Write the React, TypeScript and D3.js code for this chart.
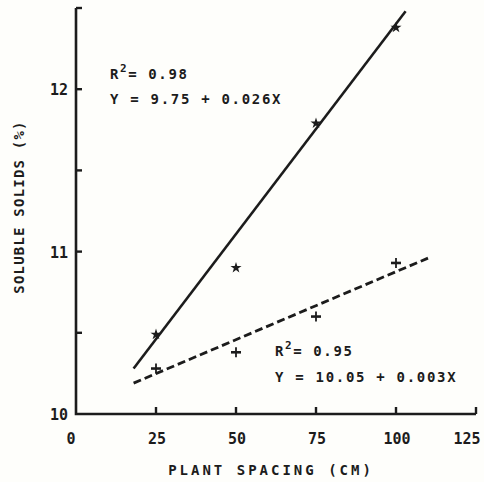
import React from "react";
import * as d3 from "d3";

const xTicks = [0, 25, 50, 75, 100, 125];
const xTickMarks = [25, 50, 75, 100, 125];
const yTickMarks = [10.5, 11, 11.5, 12, 12.5];
const yLabels = [10, 11, 12];
const spacing = [25, 50, 75, 100];
const solidsStar = [10.49, 10.9, 11.79, 12.38];
const solidsPlus = [10.28, 10.38, 10.6, 10.93];
const fitStarX = [18, 103];
const fitStarY = [10.28, 12.48];
const fitPlusX = [18, 110];
const fitPlusY = [10.19, 10.96];
const eq1 = ["0.98", "Y = 9.75 + 0.026X"];
const eq2 = ["0.95", "Y = 10.05 + 0.003X"];
const xTitle = "PLANT SPACING (CM)";
const yTitle = "SOLUBLE SOLIDS (%)";

const W = 484;
const H = 482;
const INK = "#1c1c1c";
const FONT = "'DejaVu Sans Mono', monospace";

export default function App() {
  const x = d3.scaleLinear().domain([0, 125]).range([76, 476]);
  const y = d3.scaleLinear().domain([10, 12.5]).range([414, 8]);
  const line = d3
    .line<[number, number]>()
    .x((d) => x(d[0]))
    .y((d) => y(d[1]));
  const fit1: [number, number][] = fitStarX.map((v, i) => [v, fitStarY[i]]);
  const fit2: [number, number][] = fitPlusX.map((v, i) => [v, fitPlusY[i]]);
  const star = d3.symbol().type(d3.symbolStar).size(38)() as string;

  const textStyle: React.CSSProperties = {
    fontFamily: FONT,
    fontWeight: 700,
    fill: INK,
  };

  const labelX = (t: number) => (t === 0 ? x(t) - 5 : Math.min(x(t) + 1, 467));

  return (
    <div style={{ position: "fixed", left: 0, top: 0, width: W, height: H, background: "#fefefb" }}>
      <svg width={W} height={H} style={{ display: "block" }}>
        <rect width={W} height={H} fill="#fefefb" />
        {/* axes */}
        <path
          d={`M${x(0)},${y(12.5)} V${y(10)} H${x(125)}`}
          fill="none"
          stroke={INK}
          strokeWidth={2.6}
        />
        {yTickMarks.map((t) => (
          <line key={"yt" + t} x1={x(0)} x2={x(0) + 6} y1={y(t)} y2={y(t)} stroke={INK} strokeWidth={2.4} />
        ))}
        {xTickMarks.map((t) => (
          <line key={"xt" + t} x1={x(t)} x2={x(t)} y1={y(10)} y2={y(10) - 7} stroke={INK} strokeWidth={2.4} />
        ))}
        {xTicks.map((t) => (
          <text key={"xl" + t} x={labelX(t)} y={444} textAnchor="middle" fontSize={15} style={textStyle}>
            {t}
          </text>
        ))}
        {yLabels.map((t) => (
          <text key={"yl" + t} x={68} y={y(t) + 6} textAnchor="end" fontSize={15} style={textStyle}>
            {t}
          </text>
        ))}
        <text
          x={(x(0) + x(125)) / 2 - 5}
          y={475}
          textAnchor="middle"
          fontSize={14}
          letterSpacing={3}
          style={textStyle}
        >
          {xTitle}
        </text>
        <text
          transform={`translate(24,207) rotate(-90)`}
          textAnchor="middle"
          fontSize={14}
          letterSpacing={1.2}
          style={textStyle}
        >
          {yTitle}
        </text>

        {/* fitted lines */}
        <path d={line(fit1) as string} fill="none" stroke={INK} strokeWidth={2.6} />
        <path
          d={line(fit2) as string}
          fill="none"
          stroke={INK}
          strokeWidth={2.8}
          strokeDasharray="8 4"
        />

        {/* points */}
        {spacing.map((s, i) => (
          <path key={"s" + i} d={star} transform={`translate(${x(s)},${y(solidsStar[i])})`} fill={INK} />
        ))}
        {spacing.map((s, i) => (
          <g key={"p" + i} transform={`translate(${x(s)},${y(solidsPlus[i])})`} stroke={INK}>
            <line x1={-5} x2={5} y1={0} y2={0} strokeWidth={2.6} />
            <line x1={0} x2={0} y1={-5} y2={5} strokeWidth={1.8} />
          </g>
        ))}

        {/* equations */}
        <text x={110} y={79} fontSize={14} letterSpacing={1.6} style={textStyle}>
          R<tspan dy={-7} fontSize={11}>2</tspan>
          <tspan dy={7}>= {eq1[0]}</tspan>
        </text>
        <text x={110} y={104} fontSize={14} letterSpacing={1.7} style={textStyle}>
          {eq1[1]}
        </text>
        <text x={275} y={356} fontSize={14} letterSpacing={1.6} style={textStyle}>
          R<tspan dy={-7} fontSize={11}>2</tspan>
          <tspan dy={7}>= {eq2[0]}</tspan>
        </text>
        <text x={275} y={382} fontSize={14} letterSpacing={1.7} style={textStyle}>
          {eq2[1]}
        </text>
      </svg>
    </div>
  );
}
